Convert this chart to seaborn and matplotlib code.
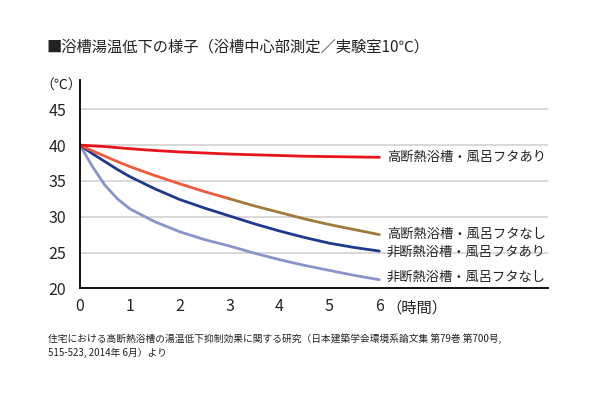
import matplotlib
matplotlib.use('Agg')
import matplotlib.pyplot as plt
import seaborn as sns
import pandas as pd

# hours
hours = [0, 0.25, 0.5, 0.75, 1, 1.5, 2, 2.5, 3, 3.5, 4, 4.5, 5, 5.5, 6]

# temperatures (C)
high_lid = [40.0, 39.9, 39.8, 39.65, 39.5, 39.25, 39.05, 38.9, 38.75, 38.65, 38.55, 38.45, 38.4, 38.35, 38.3]
high_nolid = [40.0, 39.2, 38.45, 37.7, 37.0, 35.75, 34.6, 33.5, 32.5, 31.5, 30.6, 29.7, 28.9, 28.2, 27.5]
non_lid = [40.0, 38.8, 37.7, 36.6, 35.6, 33.9, 32.4, 31.2, 30.1, 29.0, 28.0, 27.1, 26.3, 25.7, 25.2]
non_nolid = [40.0, 37.0, 34.4, 32.5, 31.1, 29.3, 27.9, 26.8, 25.9, 24.9, 24.0, 23.2, 22.5, 21.8, 21.2]

labels = ['高断熱浴槽・風呂フタあり', '高断熱浴槽・風呂フタなし',
          '非断熱浴槽・風呂フタあり', '非断熱浴槽・風呂フタなし']
colors = ['#e8141c', '#a07a3c', '#1e3a8c', '#8a94cc']

df = pd.DataFrame({'hour': hours, 'high_lid': high_lid, 'high_nolid': high_nolid,
                   'non_lid': non_lid, 'non_nolid': non_nolid})

sns.set_style('white')
plt.rcParams['font.family'] = ['Noto Sans CJK JP', 'DejaVu Sans']

fig = plt.figure(figsize=(6, 3.97), dpi=100)
ax = fig.add_axes([0.1333, 0.2738, 0.78, 0.5247])

for y in [25, 30, 35, 40, 45]:
    ax.axhline(y, color='#d2d2d2', lw=1.2, zorder=0)

sns.lineplot(data=df, x='hour', y='non_nolid', color=colors[3], lw=2, ax=ax)
sns.lineplot(data=df, x='hour', y='non_lid', color=colors[2], lw=2, ax=ax)
# no-lid high insulation line shifts from orange-red to brown
first = df[df['hour'] <= 3]
second = df[df['hour'] >= 3]
sns.lineplot(data=first, x='hour', y='high_nolid', color='#ee5a3a', lw=2, ax=ax)
sns.lineplot(data=second, x='hour', y='high_nolid', color=colors[1], lw=2, ax=ax)
sns.lineplot(data=df, x='hour', y='high_lid', color=colors[0], lw=2, ax=ax)

ax.set_xlim(0, 9.38)
ax.set_ylim(20, 49.1)
ax.set_xticks(range(0, 7))
ax.set_yticks([20, 25, 30, 35, 40, 45])
ax.tick_params(axis='x', direction='out', length=5, width=1.2, labelsize=11.5, pad=2)
ax.tick_params(axis='y', length=0, labelsize=11.5, pad=10)
ax.set_xlabel('')
ax.set_ylabel('')
for s in ['top', 'right']:
    ax.spines[s].set_visible(False)
for s in ['left', 'bottom']:
    ax.spines[s].set_color('black')
    ax.spines[s].set_linewidth(1.3)

label_y = [38.3, 27.6, 25.0, 21.5]
for lab, yv in zip(labels, label_y):
    ax.text(6.15, yv, lab, fontsize=9.5, va='center', ha='left', color='#222222')

ax.text(6.15, 20 - 1.6, '（時間）', fontsize=11, va='top', ha='left', color='#222222')
fig.text(0.068, 0.785, '（℃）', fontsize=10, ha='left', va='center', color='#222222')

fig.text(0.078, 0.882, '■浴槽湯温低下の様子（浴槽中心部測定／実験室10℃）', fontsize=11,
         ha='left', va='center', color='#222222')
fig.text(0.08, 0.148, '住宅における高断熱浴槽の湯温低下抑制効果に関する研究（日本建築学会環境系論文集 第79巻 第700号,',
         fontsize=7, ha='left', va='center', color='#222222')
fig.text(0.08, 0.112, '515-523, 2014年 6月）より', fontsize=7, ha='left', va='center', color='#222222')

fig.savefig('out.png', dpi=100)
